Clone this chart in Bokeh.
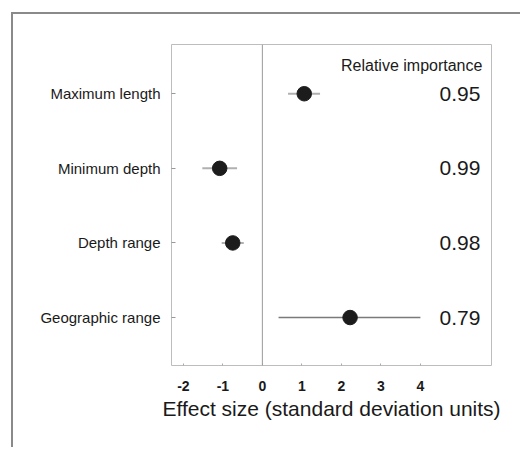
from bokeh.plotting import figure
from bokeh.models import ColumnDataSource, FixedTicker, Span, Label
from bokeh.embed import file_html
from bokeh.resources import INLINE

# ---- data ----
traits = ["Maximum length", "Minimum depth", "Depth range", "Geographic range"]
estimate = [1.06, -1.08, -0.75, 2.22]
lower = [0.65, -1.52, -1.03, 0.41]
upper = [1.46, -0.64, -0.47, 4.0]
importance = ["0.95", "0.99", "0.98", "0.79"]
x_ticks = [-2, -1, 0, 1, 2, 3, 4]
x_tick_labels = ["-2", "-1", "0", "1", "2", "3", "4"]

ypos = [len(traits) - i for i in range(len(traits))]
bar_colors = ["#b0b0b0", "#b0b0b0", "#b0b0b0", "#7a7a7a"]
bar_widths = [2, 2, 2, 1.5]

src = ColumnDataSource(dict(y=ypos, est=estimate, lo=lower, hi=upper,
                            imp=importance, col=bar_colors, lw=bar_widths))

p = figure(width=509, height=435, output_backend="svg", toolbar_location=None,
           x_range=(-2.30, 5.80), y_range=(0.357, 4.66),
           min_border_left=158, min_border_right=31, min_border_top=30,
           min_border_bottom=84)
p.styles = {"border-top": "2px solid #8a8a8a", "border-left": "2px solid #8a8a8a",
            "margin-left": "11px", "margin-top": "12px"}

p.xgrid.visible = False
p.ygrid.visible = False
p.outline_line_color = "#bdbdbd"
p.outline_line_width = 1

p.add_layout(Span(location=0, dimension="height", line_color="#9a9a9a", line_width=1))

p.segment(x0="lo", x1="hi", y0="y", y1="y", source=src, line_color="col", line_width="lw")
p.scatter(x="est", y="y", source=src, size=14.5, fill_color="#1c1c1c", line_color="#1c1c1c")

p.text(x=5.52, y="y", text="imp", source=src, text_align="right", text_baseline="middle",
       text_font_size="21px", text_color="#1a1a1a", text_font={"value": "Liberation Sans"})
p.add_layout(Label(x=5.57, y=4.38, text="Relative importance", text_align="right",
                   text_baseline="middle", text_font_size="16px", text_color="#1a1a1a",
                   text_font="Liberation Sans"))

# y axis
p.yaxis.ticker = FixedTicker(ticks=ypos)
p.yaxis.major_label_overrides = {y: t for y, t in zip(ypos, traits)}
p.yaxis.axis_line_color = None
p.yaxis.major_tick_in = 4
p.yaxis.major_tick_out = 0
p.yaxis.major_tick_line_color = "#999999"
p.yaxis.minor_tick_line_color = None
p.yaxis.major_label_standoff = 11
p.yaxis.major_label_text_font = "Liberation Sans"
p.yaxis.major_label_text_font_size = "15px"
p.yaxis.major_label_text_color = "#1a1a1a"

# x axis
p.xaxis.ticker = FixedTicker(ticks=x_ticks)
p.xaxis.major_label_overrides = {t: s for t, s in zip(x_ticks, x_tick_labels)}
p.xaxis.axis_line_color = None
p.xaxis.major_tick_in = 2
p.xaxis.major_tick_out = 0
p.xaxis.major_tick_line_color = "#aaaaaa"
p.xaxis.minor_tick_line_color = None
p.xaxis.major_label_standoff = 15
p.xaxis.major_label_text_font = "Liberation Sans"
p.xaxis.major_label_text_font_size = "14px"
p.xaxis.major_label_text_font_style = "bold"
p.xaxis.major_label_text_color = "#1a1a1a"
p.xaxis.axis_label = "Effect size (standard deviation units)"
p.xaxis.axis_label_text_font = "Liberation Sans"
p.xaxis.axis_label_text_font_size = "21px"
p.xaxis.axis_label_text_font_style = "normal"
p.xaxis.axis_label_text_color = "#1a1a1a"
p.xaxis.axis_label_standoff = 3

open("out.html", "w").write(file_html(p, INLINE))
